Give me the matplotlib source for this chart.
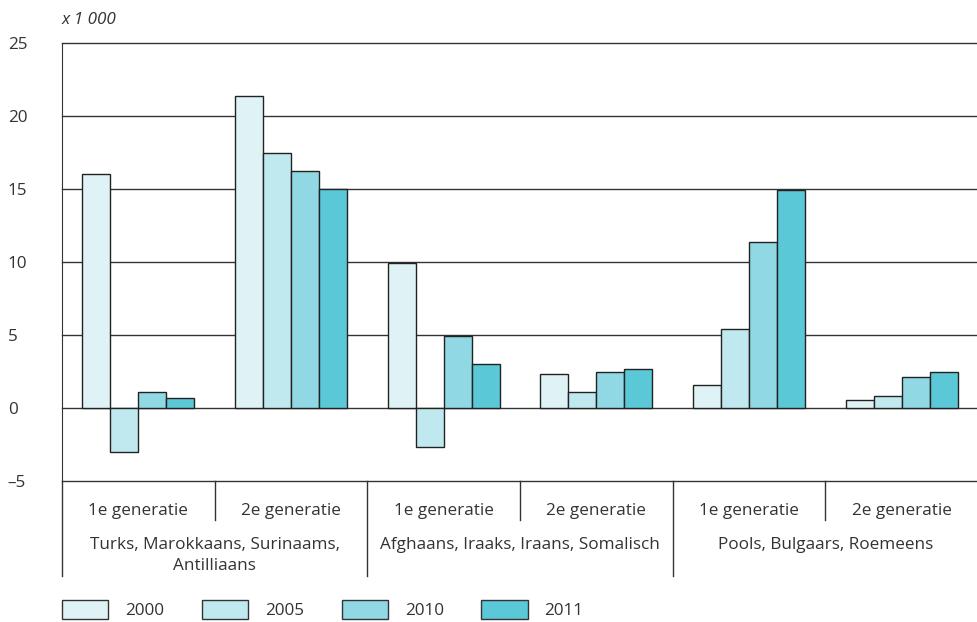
import numpy as np
import matplotlib.pyplot as plt
from matplotlib.patches import Patch

plt.rcParams['font.family'] = ['Open Sans', 'DejaVu Sans']
plt.rcParams['font.size'] = 12.3
plt.rcParams['text.color'] = '#333333'

# Data (x 1 000)
years = ['2000', '2005', '2010', '2011']
subgroups = ['1e generatie', '2e generatie'] * 3
groups = ['Turks, Marokkaans, Surinaams,\nAntilliaans',
          'Afghaans, Iraaks, Iraans, Somalisch',
          'Pools, Bulgaars, Roemeens']
v2000 = [16.0, 21.4, 9.9, 2.3, 1.6, 0.55]
v2005 = [-3.0, 17.5, -2.7, 1.1, 5.4, 0.8]
v2010 = [1.1, 16.2, 4.9, 2.5, 11.4, 2.1]
v2011 = [0.7, 15.0, 3.0, 2.7, 14.9, 2.5]
series = [v2000, v2005, v2010, v2011]
colors = ['#dff3f7', '#c0e9ef', '#8fd8e4', '#5bc8d8']

fig = plt.figure(figsize=(9.78, 6.22), dpi=100)
W, H = 978, 622
ax = fig.add_axes([62 / W, (H - 481) / H, 916 / W, (481 - 43) / H])

x = np.arange(6) + 0.5
bw = 0.183
for i, (vals, c) in enumerate(zip(series, colors)):
    ax.bar(x + (i - 1.5) * bw, vals, bw, color=c, edgecolor='#222222',
           linewidth=1, zorder=3)

ax.set_xlim(0, 6)
ax.set_ylim(-5, 25)
yt = [-5, 0, 5, 10, 15, 20, 25]
for y in yt:
    ax.axhline(y, color='#333333', linewidth=1, zorder=1, clip_on=False)
ax.set_yticks(yt)
ax.set_yticklabels(['–5' if y < 0 else str(y) for y in yt], ha='left')
ax.tick_params(axis='y', length=0, pad=39, labelcolor='#333333')
ax.set_xticks([])
for s in ['top', 'right', 'bottom']:
    ax.spines[s].set_visible(False)
ax.spines['left'].set_color('#333333')

# category axis below the plot
tr = ax.get_xaxis_transform()
short_y = (481 - 520) / 438
long_y = (481 - 576) / 438
for k in range(1, 6):
    y_end = long_y if k % 2 == 0 else short_y
    ax.plot([k, k], [0, y_end], color='#333333', lw=1, transform=tr, clip_on=False)
ax.plot([0, 0], [0, long_y], color='#333333', lw=1, transform=tr, clip_on=False)

for xi, lab in zip(x, subgroups):
    ax.text(xi, (481 - 511) / 438, lab, transform=tr, ha='center', va='center')
for gi, lab in enumerate(groups):
    ax.text(2 * gi + 1, (481 - 537) / 438, lab, transform=tr, ha='center',
            va='top', linespacing=1.4)

fig.text(62 / W, 1 - 20 / H, 'x 1 000', style='italic', ha='left', va='center')

handles = [Patch(facecolor=c, edgecolor='#333333', linewidth=1) for c in colors]
fig.legend(handles, years, loc='lower left', bbox_to_anchor=(62 / W, 3 / H),
           ncol=4, frameon=False, borderpad=0, borderaxespad=0,
           handlelength=2.7, handleheight=1.3, handletextpad=1.0,
           columnspacing=2.2)

fig.savefig('out.png', dpi=100)
